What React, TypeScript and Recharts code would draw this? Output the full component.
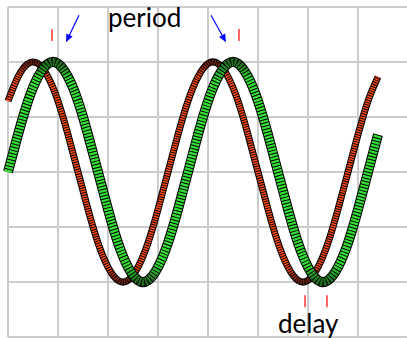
import { LineChart, Line, XAxis, YAxis, CartesianGrid, ReferenceLine, ReferenceDot } from 'recharts';

// sample times (grid units)
const time = [
  0, 0.2, 0.4, 0.6, 0.8, 1, 1.2, 1.4, 1.6, 1.8, 2, 2.2, 2.4, 2.6, 2.8, 3, 3.2, 3.4, 3.6,
  3.8, 4, 4.2, 4.4, 4.6, 4.8, 5, 5.2, 5.4, 5.6, 5.8, 6, 6.2, 6.4, 6.6, 6.8, 7, 7.2, 7.4,
];

// delayed signal (green squares)
const greenSignal = [
  0, 0.68, 1.29, 1.73, 1.97, 1.97, 1.73, 1.29, 0.68, 0, -0.68, -1.29, -1.73, -1.97, -1.97, -1.73, -1.29, -0.68, 0,
  0.68, 1.29, 1.73, 1.97, 1.97, 1.73, 1.29, 0.68, 0, -0.68, -1.29, -1.73, -1.97, -1.97, -1.73, -1.29, -0.68, 0, 0.68,
];

// reference signal (red diamonds)
const redSignal = [
  1.29, 1.73, 1.97, 1.97, 1.73, 1.29, 0.68, 0, -0.68, -1.29, -1.73, -1.97, -1.97, -1.73, -1.29, -0.68, 0, 0.68, 1.29,
  1.73, 1.97, 1.97, 1.73, 1.29, 0.68, 0, -0.68, -1.29, -1.73, -1.97, -1.97, -1.73, -1.29, -0.68, 0, 0.68, 1.29, 1.73,
];

const xTicks = [0, 1, 2, 3, 4, 5, 6, 7, 8];
const yTicks = [-3, -2, -1, 0, 1, 2, 3];

// annotation positions (data coords)
const periodTicks = [0.88, 4.62];
const delayTicks = [5.94, 6.38];
const periodArrows = [
  [{ x: 1.42, y: 2.85 }, { x: 1.16, y: 2.36 }],
  [{ x: 4.06, y: 2.85 }, { x: 4.36, y: 2.36 }],
];
const labels = [
  { x: 2.0, y: 2.64, text: 'period' },
  { x: 5.4, y: -2.93, text: 'delay' },
];

const data = time.map((t, i) => ({ t, red: redSignal[i], green: greenSignal[i] }));

const Arrow = (props: any) => {
  const { x1, y1, x2, y2 } = props;
  const a = Math.atan2(y2 - y1, x2 - x1);
  const len = 8;
  const w = 3.5;
  const bx = x2 - len * Math.cos(a);
  const by = y2 - len * Math.sin(a);
  const px = -Math.sin(a) * w;
  const py = Math.cos(a) * w;
  return (
    <g>
      <line x1={x1} y1={y1} x2={bx} y2={by} stroke="#0000ff" strokeWidth={1.2} />
      <polygon points={`${x2},${y2} ${bx + px},${by + py} ${bx - px},${by - py}`} fill="#0000ff" />
    </g>
  );
};

const Label = (text: string) => (props: any) => (
  <text x={props.cx} y={props.cy} fontFamily="Lato" fontSize={26} fill="#000">
    {text}
  </text>
);

export default function App() {
  return (
    <div style={{ position: 'absolute', left: 0, top: 0, width: 407, height: 338, overflow: 'hidden', background: '#fff' }}>
      <LineChart width={408} height={338} data={data} margin={{ top: 7, right: 0, bottom: 1, left: 8 }}>
        <defs>
          <linearGradient id="greenShade" x1="0" y1="0" x2="0" y2="1">
            <stop offset="0%" stopColor="#1d6a1d" />
            <stop offset="8%" stopColor="#35e035" />
            <stop offset="92%" stopColor="#35e035" />
            <stop offset="100%" stopColor="#1d6a1d" />
          </linearGradient>
          <linearGradient id="redShade" x1="0" y1="0" x2="0" y2="1">
            <stop offset="0%" stopColor="#6a2010" />
            <stop offset="7%" stopColor="#ff4a12" />
            <stop offset="93%" stopColor="#ff4a12" />
            <stop offset="100%" stopColor="#6a2010" />
          </linearGradient>
        </defs>
        <CartesianGrid stroke="#cccccc" strokeWidth={2} />
        <XAxis type="number" dataKey="t" domain={[0, 8]} ticks={xTicks} hide />
        <YAxis type="number" domain={[-3, 3]} ticks={yTicks} hide />

        <Line type="natural" dataKey="red" stroke="#000" strokeWidth={7} dot={false} activeDot={false} isAnimationActive={false} />
        <Line
          type="natural"
          dataKey="red"
          stroke="url(#redShade)"
          strokeWidth={5}
          strokeDasharray="1.5 0.9"
          dot={false}
          activeDot={false}
          isAnimationActive={false}
        />
        <Line type="natural" dataKey="green" stroke="#000" strokeWidth={10} dot={false} activeDot={false} isAnimationActive={false} />
        <Line
          type="natural"
          dataKey="green"
          stroke="url(#greenShade)"
          strokeWidth={8}
          strokeDasharray="2.2 1"
          dot={false}
          activeDot={false}
          isAnimationActive={false}
        />

        {periodTicks.map((x) => (
          <ReferenceLine
            key={`p${x}`}
            segment={[{ x, y: 2.6 }, { x, y: 2.38 }]}
            stroke="#ff0000"
            strokeWidth={1.2}
            ifOverflow="visible"
          />
        ))}
        {delayTicks.map((x) => (
          <ReferenceLine
            key={`d${x}`}
            segment={[{ x, y: -2.24 }, { x, y: -2.46 }]}
            stroke="#ff0000"
            strokeWidth={1.2}
            ifOverflow="visible"
          />
        ))}
        {periodArrows.map((seg, i) => (
          <ReferenceLine key={`a${i}`} segment={seg} shape={Arrow} ifOverflow="visible" />
        ))}
        {labels.map((l) => (
          <ReferenceDot key={l.text} x={l.x} y={l.y} r={0} shape={Label(l.text)} ifOverflow="visible" />
        ))}
      </LineChart>
    </div>
  );
}
